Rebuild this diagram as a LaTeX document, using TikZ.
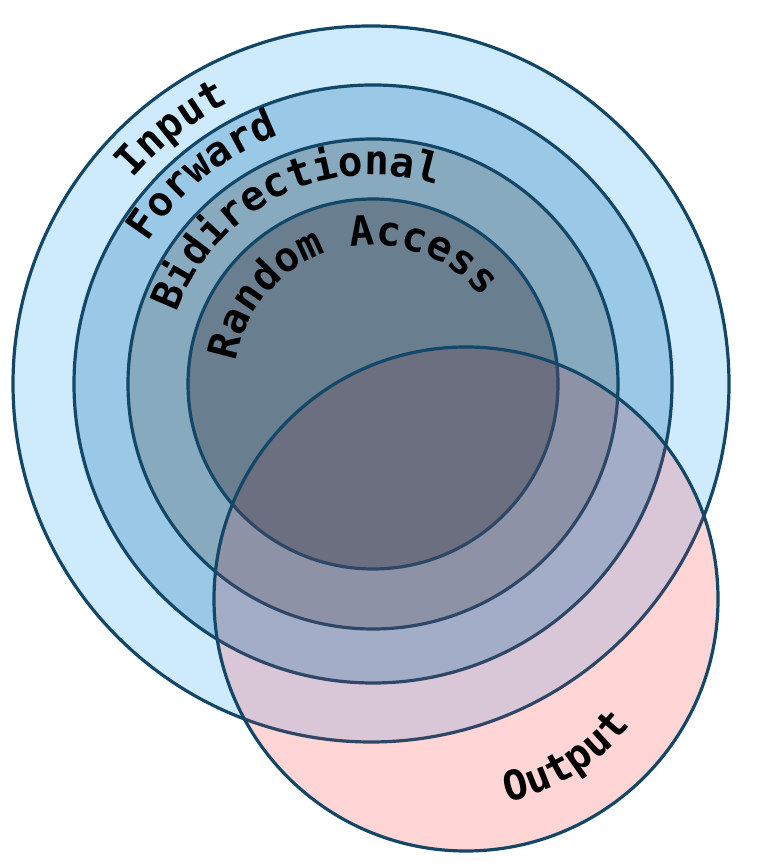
\documentclass[tikz,border=0pt]{standalone}
\usepackage{fontspec}
\usetikzlibrary{decorations.text}
\newfontfamily\monof{DejaVu Sans Mono}
\newcommand{\labf}{\monof\bfseries\fontsize{41}{41}\selectfont}
\definecolor{strokec}{HTML}{124767}
\definecolor{mutedc}{HTML}{2F4767}
\definecolor{bone}{HTML}{CDEBFD}
\definecolor{btwo}{HTML}{99C9E6}
\definecolor{bthree}{HTML}{88AABF}
\definecolor{bfour}{HTML}{697F8F}
\definecolor{pzero}{HTML}{FFD5D6}
\definecolor{pone}{HTML}{D9C6D6}
\definecolor{ptwo}{HTML}{A3ADC7}
\definecolor{pthree}{HTML}{8E92A7}
\definecolor{pfour}{HTML}{6B6F7F}
\tikzset{
  ring/.style={line width=3.2pt, draw=strokec},
  label arc/.style={decorate, decoration={text along path, text={|\labf|#1}, text align=center}}
}
\begin{document}
\begin{tikzpicture}[x=1pt,y=1pt]
\useasboundingbox (0,0) rectangle (756,866);
\coordinate (C0) at (371,482);
\coordinate (C) at (373,482);
\coordinate (P) at (466,267);
% blue circles
\path[ring, fill=bone] (C0) circle[radius=358];
\path[ring, fill=btwo] (C) circle[radius=299];
\path[ring, fill=bthree] (C) circle[radius=245];
\path[ring, fill=bfour] (C) circle[radius=185];
% pink overlay
\begin{scope}
  \clip (P) circle[radius=252];
  \fill[pzero] (P) circle[radius=252];
  \fill[pone] (C0) circle[radius=358];
  \fill[ptwo] (C) circle[radius=299];
  \fill[pthree] (C) circle[radius=245];
  \fill[pfour] (C) circle[radius=185];
  \draw[line width=3.2pt, mutedc] (C0) circle[radius=358];
  \draw[line width=3.2pt, mutedc] (C) circle[radius=299];
  \draw[line width=3.2pt, mutedc] (C) circle[radius=245];
  \draw[line width=3.2pt, mutedc] (C) circle[radius=185];
\end{scope}
\draw[ring] (P) circle[radius=252];
% labels
\path[label arc=Input] ([shift={(168.2:316)}]C) arc[start angle=168.2, end angle=88.2, radius=316];
\path[label arc=Forward] ([shift={(169.2:266)}]C) arc[start angle=169.2, end angle=89.2, radius=266];
\path[label arc=Bidirectional] ([shift={(176.15:209)}]C) arc[start angle=176.15, end angle=56.15, radius=209];
\path[label arc=Random Access] ([shift={(184.45:139)}]C) arc[start angle=184.45, end angle=24.45, radius=139];
\path[label arc=Output] ([shift={(-98:207)}]P) arc[start angle=-98, end angle=-18, radius=207];
\end{tikzpicture}
\end{document}
